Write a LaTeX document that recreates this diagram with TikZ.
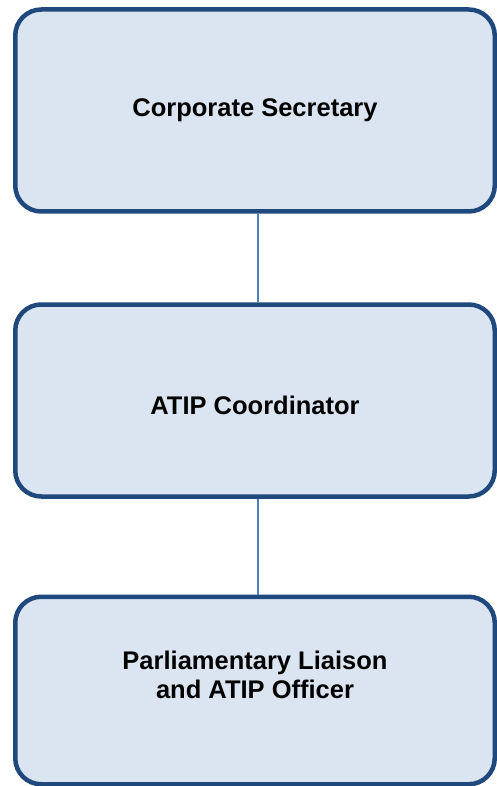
\documentclass[tikz,border=0pt]{standalone}
\usepackage{fontspec}
\setmainfont{Liberation Sans}
\usetikzlibrary{positioning}
\definecolor{boxfill}{HTML}{DBE5F1}
\definecolor{boxline}{HTML}{1F497D}
\definecolor{linkline}{HTML}{4F81BD}

\begin{document}
\begin{tikzpicture}[node distance=290pt,semithick]
  \tikzstyle{orgbox}=[draw=boxline,fill=boxfill,line width=4.5pt,rounded corners=26pt,
                      minimum width=479.5pt,align=center,
                      font=\fontsize{25.5}{29}\selectfont\bfseries]
  \useasboundingbox (0,0) rectangle (497pt,-786pt);

  \node[orgbox,minimum height=202pt]   (A) at (255pt,-110.5pt) {Corporate Secretary};
  \node[orgbox,minimum height=192pt,text height=28pt]  (B) [below of=A] {ATIP Coordinator};
  \node[orgbox,minimum height=187.5pt,text depth=31pt] (C) [below of=B] {Parliamentary Liaison\\and ATIP Officer};

  \path[draw=linkline,line width=2pt]
        ([xshift=2.5pt]A.south) edge ([xshift=2.5pt]B.north)
        ([xshift=2.5pt]B.south) edge ([xshift=2.5pt]C.north);

\end{tikzpicture}
\end{document}
